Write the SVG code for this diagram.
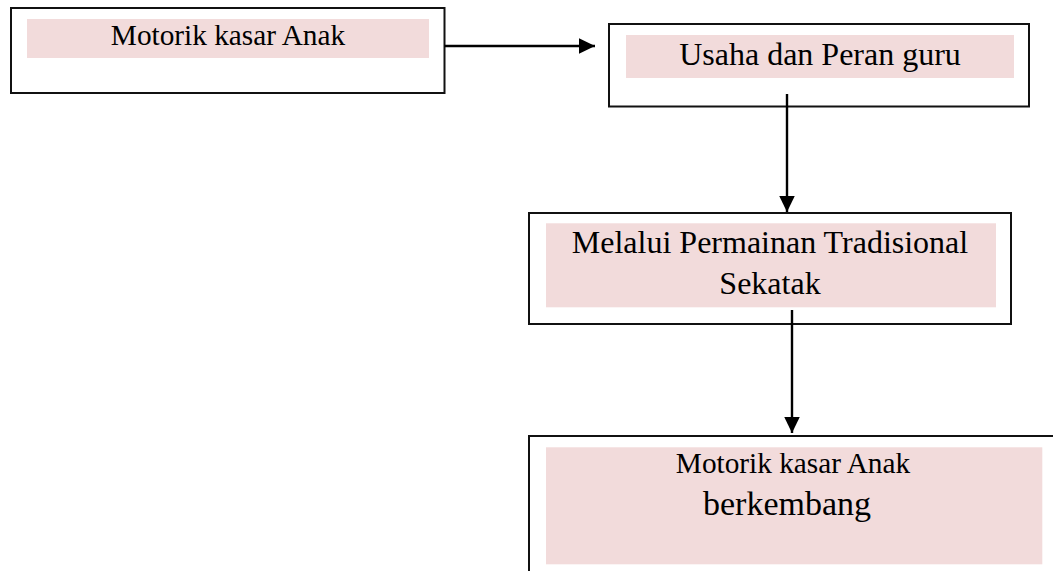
<svg xmlns="http://www.w3.org/2000/svg" width="1053" height="571" viewBox="0 0 1053 571">
  <style>
    .box { fill: #ffffff; stroke: #111111; stroke-width: 2; }
    .pink { fill: #f2dbdb; stroke: none; }
    .t { font-family: "Liberation Serif", "Times New Roman", serif; fill: #000000; text-anchor: middle; }
    .conn { stroke: #000000; stroke-width: 2.4; fill: none; }
  </style>
  <defs>
    <marker id="arrow" markerUnits="userSpaceOnUse" markerWidth="18" markerHeight="18" refX="16.5" refY="8" orient="auto">
      <path d="M0,0 L16.5,8 L0,16 Z" fill="#000000"/>
    </marker>
  </defs>
  <rect width="1053" height="571" fill="#ffffff"/>

  <g id="node-motorik">
    <rect class="box" x="11" y="8" width="433.5" height="85"/>
    <rect class="pink" x="27" y="19" width="402" height="39"/>
    <text class="t" x="228" y="45" font-size="29.3">Motorik kasar Anak</text>
  </g>

  <g id="node-usaha">
    <rect class="box" x="609" y="24" width="420" height="82.5"/>
    <rect class="pink" x="626" y="35" width="388" height="43"/>
    <text class="t" x="820" y="65" font-size="32">Usaha dan Peran guru</text>
  </g>

  <g id="node-melalui">
    <rect class="box" x="529" y="213" width="482" height="111"/>
    <rect class="pink" x="546" y="223.3" width="450" height="84"/>
    <text class="t" x="770" y="253" font-size="32">Melalui Permainan Tradisional</text>
    <text class="t" x="770" y="294" font-size="32">Sekatak</text>
  </g>

  <g id="node-berkembang">
    <rect class="box" x="529" y="436" width="540" height="150"/>
    <rect class="pink" x="546" y="447.3" width="496.3" height="117"/>
    <text class="t" x="793" y="473" font-size="29.3">Motorik kasar Anak</text>
    <text class="t" x="787" y="515" font-size="34">berkembang</text>
  </g>

  <g id="connectors">
    <line class="conn" x1="444.5" y1="46" x2="595" y2="46" marker-end="url(#arrow)"/>
    <line class="conn" x1="787" y1="94" x2="787" y2="212" marker-end="url(#arrow)"/>
    <line class="conn" x1="792" y1="310" x2="792" y2="433" marker-end="url(#arrow)"/>
  </g>
</svg>
